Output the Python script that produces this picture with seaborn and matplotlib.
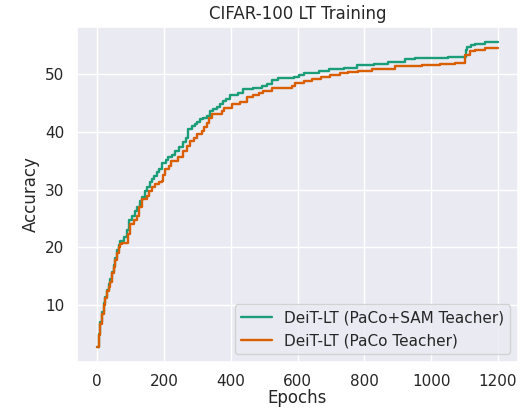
import matplotlib
matplotlib.use("Agg")
import matplotlib.pyplot as plt
import seaborn as sns
import pandas as pd

# ---- data ----
sam_epochs = [0, 5, 10, 15, 20, 25, 30, 35, 40, 45, 50, 55, 60, 65, 70, 80, 90, 95, 105, 113,
              120, 128, 135, 143, 150, 158, 163, 170, 178, 185, 193, 205, 213, 223, 233, 245,
              258, 266, 273, 285, 293, 300, 308, 318, 328, 338, 348, 358, 368, 378, 385, 398, 423,
              438, 468, 493, 510, 523, 543, 588, 605, 618, 663, 694, 740, 777, 830, 872, 900,
              922, 952, 1010, 1050, 1104, 1107, 1120, 1132, 1162, 1200]
sam_acc = [2.8, 5.0, 7.0, 8.8, 10.3, 11.5, 12.6, 13.6, 14.6, 15.8, 17.0, 18.2, 19.5, 20.5, 21.2,
           21.8, 23.0, 24.7, 25.4, 26.4, 27.0, 28.1, 28.8, 29.8, 30.5, 31.3, 31.9, 32.4, 33.0,
           33.6, 34.7, 35.2, 35.6, 36.0, 36.8, 37.4, 38.2, 38.9, 40.6, 41.0, 41.4, 41.8, 42.2, 42.5,
           42.8, 43.6, 44.0, 44.4, 44.9, 45.4, 45.8, 46.4, 46.7, 47.4, 47.7, 48.0, 48.3, 49.0,
           49.3, 49.5, 49.9, 50.3, 50.6, 51.0, 51.1, 51.7, 51.8, 52.1, 52.2, 52.6, 52.8, 52.9,
           53.0, 54.2, 54.7, 55.0, 55.3, 55.6, 55.6]

paco_epochs = [0, 5, 10, 15, 20, 25, 30, 35, 40, 45, 50, 55, 60, 65, 70, 75, 93, 100, 110, 120,
               125, 135, 150, 155, 165, 173, 185, 193, 198, 203, 215, 220, 243, 258, 268, 278,
               290, 298, 313, 320, 328, 335, 343, 373, 380, 403, 428, 448, 468, 485, 498, 523,
               583, 593, 618, 643, 670, 697, 727, 752, 782, 822, 892, 972, 1027, 1072, 1100,
               1102, 1117, 1132, 1162, 1200]
paco_acc = [2.8, 4.8, 6.8, 8.5, 10.0, 11.3, 12.4, 13.2, 14.0, 15.5, 16.7, 17.8, 19.0, 20.0, 20.6,
            20.8, 22.4, 24.1, 24.8, 25.5, 27.0, 28.4, 29.0, 29.8, 30.4, 31.0, 31.3, 31.6, 32.5,
            33.6, 34.2, 35.0, 35.6, 36.8, 37.6, 38.4, 39.0, 39.6, 40.2, 40.9, 41.6, 42.4, 43.1,
            43.7, 44.2, 44.8, 45.2, 46.0, 46.5, 46.8, 47.1, 47.7, 48.0, 48.5, 48.8, 49.2, 49.5,
            49.8, 50.2, 50.4, 50.6, 50.9, 51.4, 51.6, 51.8, 51.9, 52.2, 53.4, 54.0, 54.3, 54.5,
            54.5]

series_names = ["DeiT-LT (PaCo+SAM Teacher)", "DeiT-LT (PaCo Teacher)"]
colors = ["#1b9e77", "#d95f02"]

x_ticks = [0, 200, 400, 600, 800, 1000, 1200]
y_ticks = [10, 20, 30, 40, 50]

df = pd.concat([
    pd.DataFrame({"Epochs": sam_epochs, "Accuracy": sam_acc, "Model": series_names[0]}),
    pd.DataFrame({"Epochs": paco_epochs, "Accuracy": paco_acc, "Model": series_names[1]}),
], ignore_index=True)

sns.set_theme(style="darkgrid")
plt.rcParams["font.family"] = ["DejaVu Sans"]

fig = plt.figure(figsize=(5.22, 4.09), dpi=100)
ax = fig.add_axes([0.1475, 0.115, 0.845, 0.819])

sns.lineplot(data=df, x="Epochs", y="Accuracy", hue="Model", hue_order=series_names,
             palette=dict(zip(series_names, colors)), estimator=None, sort=True,
             drawstyle="steps-post", linewidth=1.7, ax=ax)

ax.set_xticks(x_ticks)
ax.set_yticks(y_ticks)
ax.tick_params(labelsize=11, pad=3)
ax.set_xlabel("Epochs", fontsize=12, labelpad=0)
ax.set_ylabel("Accuracy", fontsize=12)
ax.set_title("CIFAR-100 LT Training", fontsize=12)
ax.set_xlim(-60, 1260)
ax.set_ylim(0.16, 58.2)
ax.legend(title=None, loc="lower right", fontsize=11)

fig.savefig("out.png", dpi=100)
